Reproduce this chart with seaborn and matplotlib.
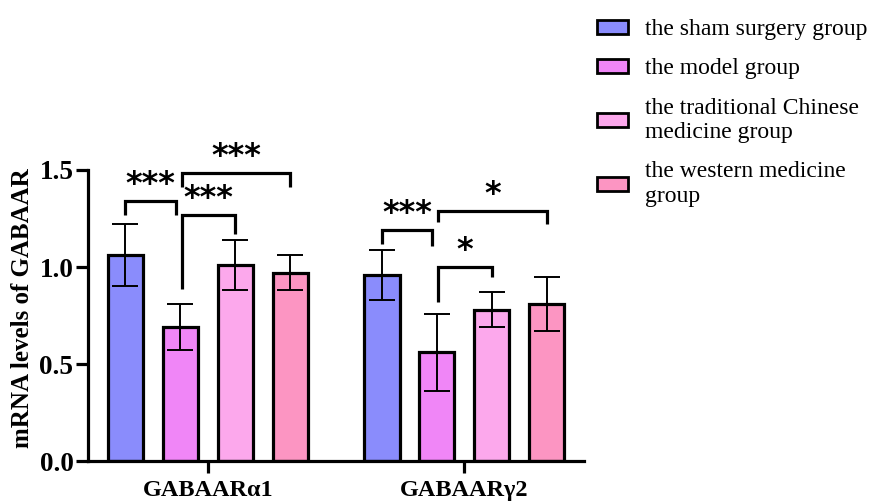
import numpy as np
import pandas as pd
import matplotlib
matplotlib.use('Agg')
import matplotlib.pyplot as plt
import seaborn as sns

# data (mean, SD)
genes = ['GABAARα1', 'GABAARγ2']
groups = ['the sham surgery group', 'the model group',
          'the traditional Chinese\nmedicine group', 'the western medicine\ngroup']
means_a1 = [1.06, 0.69, 1.01, 0.97]
sd_a1 = [0.16, 0.12, 0.13, 0.09]
means_g2 = [0.96, 0.56, 0.78, 0.81]
sd_g2 = [0.13, 0.20, 0.09, 0.14]
colors = ['#8a8cfc', '#f086f7', '#fca8ec', '#fc95c2']

# significance brackets: gene, bar from, bar to, bracket y, left leg end, right leg end, label
brackets = [
    (0, 0, 1, 1.34, 1.27, 1.27, '***'),
    (0, 1, 2, 1.27, 0.885, 1.17, '***'),
    (0, 1, 3, 1.483, 1.41, 1.41, '***'),
    (1, 0, 1, 1.19, 1.12, 1.11, '***'),
    (1, 1, 2, 1.00, 0.82, 0.95, '*'),
    (1, 1, 3, 1.29, 1.23, 1.22, '*'),
]

df = pd.DataFrame({
    'gene': np.repeat(genes, len(groups)),
    'group': groups * len(genes),
    'mean': means_a1 + means_g2,
    'sd': sd_a1 + sd_g2,
})

sns.set_style('ticks', {'axes.edgecolor': 'black', 'text.color': 'black',
                        'axes.labelcolor': 'black', 'xtick.color': 'black',
                        'ytick.color': 'black'})
plt.rcParams['font.family'] = ['Liberation Serif', 'DejaVu Serif']

fig = plt.figure(figsize=(8.74, 5.04), dpi=100)
ax = fig.add_axes([0.1007, 0.0853, 0.568, 0.5774])

sns.barplot(data=df, x='gene', y='mean', hue='group', hue_order=groups,
            palette=dict(zip(groups, colors)), width=0.856, gap=0.36,
            edgecolor='black', linewidth=2.3, errorbar=None, saturation=1, ax=ax)

# error bars on top of each bar
bar_conts = list(ax.containers)
centers = {}
for k, cont in enumerate(bar_conts):
    for g, bar in enumerate(cont):
        xc = bar.get_x() + bar.get_width() / 2
        centers[(g, k)] = xc
        row = df[(df['gene'] == genes[g]) & (df['group'] == groups[k])].iloc[0]
        ax.errorbar(xc, row['mean'], yerr=row['sd'], fmt='none', ecolor='black',
                    elinewidth=1.4, capsize=9.5, capthick=1.4, zorder=3)

# brackets
for n, (g, i, j, yb, yl, yr, lab) in enumerate(brackets):
    x1 = centers[(g, i)]
    x2 = centers[(g, j)]
    if i == 0:
        x2 -= 0.018
    else:
        x1 += 0.005
    ax.plot([x1, x1, x2, x2], [yl, yb, yb, yr], color='black', lw=2.3,
            clip_on=False, solid_capstyle='butt', solid_joinstyle='miter')
    ax.text((x1 + x2) / 2, yb + 0.005, lab, ha='center', va='bottom',
            fontsize=23, fontweight='bold', family=['DejaVu Sans'])

ax.set_xlim(-0.467, 1.468)
ax.set_ylim(0, 1.5)
ax.set_yticks([0, 0.5, 1.0, 1.5])
ax.set_yticklabels(['0.0', '0.5', '1.0', '1.5'])
ax.set_xlabel('')
ax.set_ylabel('mRNA levels of GABAAR', fontsize=18, fontweight='bold')
ax.yaxis.set_label_coords(-0.109, 0.524)
ax.tick_params(axis='y', labelsize=19.5, width=2.3, length=9, pad=1.5, direction='out')
ax.tick_params(axis='x', labelsize=17.5, width=2.3, length=8.6, direction='out', pad=5)
for lab in ax.get_xticklabels() + ax.get_yticklabels():
    lab.set_fontweight('bold')
for s in ['top', 'right']:
    ax.spines[s].set_visible(False)
for s in ['left', 'bottom']:
    ax.spines[s].set_linewidth(2.3)

handles, labels = ax.get_legend_handles_labels()
for h in handles:
    h.set_edgecolor('black')
    h.set_linewidth(2.0)
if ax.get_legend() is not None:
    ax.get_legend().remove()
leg = fig.legend(handles, labels, loc='upper left', bbox_to_anchor=(597 / 874, 1 - 19 / 504),
                 frameon=False, fontsize=17, borderpad=0, borderaxespad=0,
                 handlelength=1.3, handleheight=0.55, handletextpad=0.75, labelspacing=0.78)
for t in leg.get_texts():
    t.set_linespacing(1.2)

fig.savefig('out.png', dpi=100)
